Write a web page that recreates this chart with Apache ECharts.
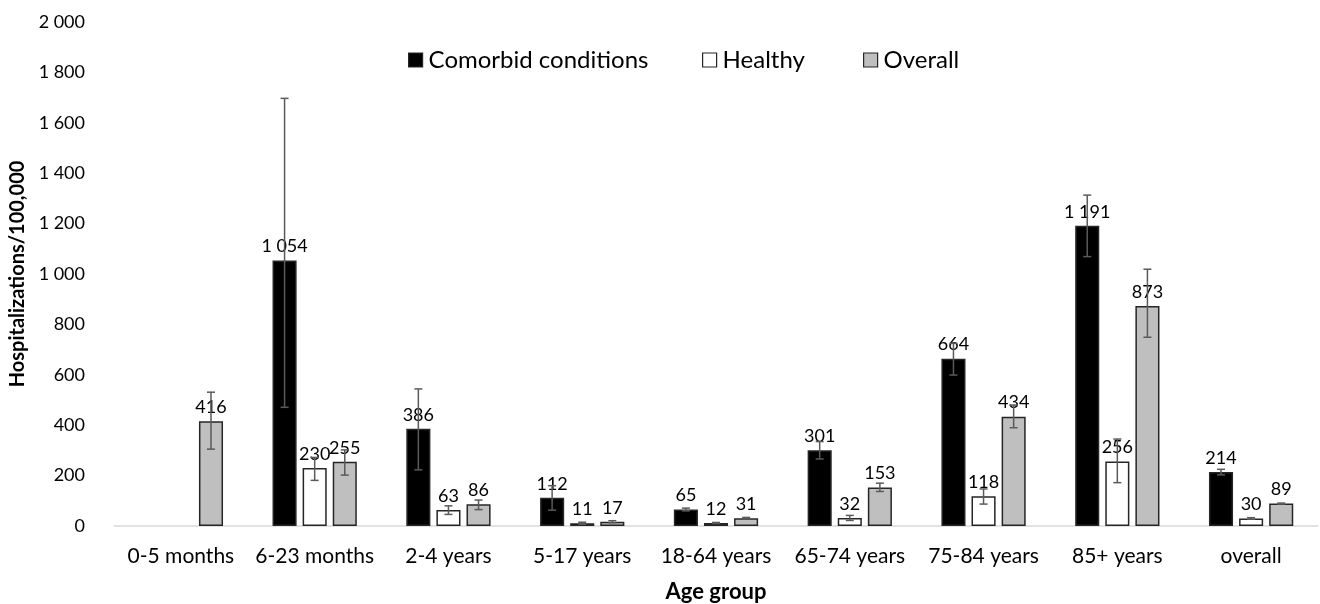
<!DOCTYPE html>
<html>
<head>
<meta charset="utf-8">
<script src="https://cdn.jsdelivr.net/npm/echarts@6/dist/echarts.min.js"></script>
<style>
  html, body { margin: 0; padding: 0; background: #fff; }
  #chart { width: 1320px; height: 604px; }
</style>
</head>
<body>
<div id="chart"></div>
<script>
const categories = ['0-5 months', '6-23 months', '2-4 years', '5-17 years', '18-64 years', '65-74 years', '75-84 years', '85+ years', 'overall'];
const seriesNames = ['Comorbid conditions', 'Healthy', 'Overall'];
const comorbid = [null, 1054, 386, 112, 65, 301, 664, 1191, 214];
const healthy = [null, 230, 63, 11, 12, 32, 118, 256, 30];
const overall = [416, 255, 86, 17, 31, 153, 434, 873, 89];
const comorbidLow = [null, 471, 223, 63, 60, 266, 599, 1069, 203];
const comorbidHigh = [null, 1697, 544, 160, 71, 335, 725, 1313, 225];
const healthyLow = [null, 181, 46, 7, 10, 22, 87, 172, 27];
const healthyHigh = [null, 272, 80, 15, 14, 42, 147, 345, 33];
const overallLow = [305, 202, 65, 13, 28, 137, 390, 749, 87];
const overallHigh = [531, 302, 103, 21, 34, 170, 480, 1019, 91];
const yTicks = [0, 200, 400, 600, 800, 1000, 1200, 1400, 1600, 1800, 2000];

const FONT = 'Lato';
const catGap = 0.37, barGapRatio = 0.25;
function fmt(v) {
  return String(v).replace(/\B(?=(\d{3})+(?!\d))/g, ' ');
}
function errData(lo, hi) {
  const out = [];
  for (let i = 0; i < lo.length; i++) {
    if (lo[i] != null && hi[i] != null) out.push([i, lo[i], hi[i]]);
  }
  return out;
}
function makeRender(k) {
  return function (params, api) {
    const xi = api.value(0);
    const lo = api.coord([xi, api.value(1)]);
    const hi = api.coord([xi, api.value(2)]);
    const band = api.size([1, 0])[0];
    const groupW = band * (1 - catGap);
    const bw = groupW / (3 + 2 * barGapRatio);
    const x = lo[0] - groupW / 2 + bw / 2 + k * bw * (1 + barGapRatio);
    const c = 4;
    const st = { stroke: '#5a5a5a', lineWidth: 1.5 };
    return {
      type: 'group',
      children: [
        { type: 'line', shape: { x1: x, y1: lo[1], x2: x, y2: hi[1] }, style: st },
        { type: 'line', shape: { x1: x - c, y1: lo[1], x2: x + c, y2: lo[1] }, style: st },
        { type: 'line', shape: { x1: x - c, y1: hi[1], x2: x + c, y2: hi[1] }, style: st }
      ]
    };
  };
}
const colors = ['#000000', '#ffffff', '#bfbfbf'];
const values = [comorbid, healthy, overall];
const lows = [comorbidLow, healthyLow, overallLow];
const highs = [comorbidHigh, healthyHigh, overallHigh];

const series = [];
for (let k = 0; k < 3; k++) {
  series.push({
    name: seriesNames[k],
    type: 'bar',
    data: values[k].map(v => v == null ? '-' : v),
    barGap: '25%',
    barCategoryGap: '37%',
    z: 2,
    itemStyle: { color: colors[k], borderColor: '#262626', borderWidth: 1.5 },
    label: {
      show: true, position: 'top', distance: 5,
      color: '#000', fontFamily: FONT, fontSize: 18,
      formatter: p => fmt(p.value)
    }
  });
}
for (let k = 0; k < 3; k++) {
  series.push({
    type: 'custom',
    name: seriesNames[k] + ' CI',
    renderItem: makeRender(k),
    data: errData(lows[k], highs[k]),
    z: 5,
    silent: true,
    encode: { x: 0, y: [1, 2] }
  });
}

const legendLefts = [403, 697, 858];
const legends = seriesNames.map((n, i) => ({
  data: [n],
  left: legendLefts[i], top: 43,
  itemWidth: 14, itemHeight: 14,
  icon: 'rect',
  textStyle: { fontFamily: FONT, fontSize: 24, color: '#000', padding: [0, 0, 0, 1] },
  itemStyle: { borderColor: '#262626', borderWidth: 1.2 }
}));

const chart = echarts.init(document.getElementById('chart'), null, { renderer: 'canvas' });
chart.setOption({
  animation: false,
  backgroundColor: '#fff',
  textStyle: { fontFamily: FONT },
  legend: legends,
  grid: { left: 114, right: 2, top: 22, bottom: 78, containLabel: false, outerBoundsMode: 'none' },
  xAxis: {
    type: 'category',
    data: categories,
    axisLine: { lineStyle: { color: '#d9d9d9', width: 1.5 } },
    axisTick: { show: false },
    axisLabel: { color: '#000', fontFamily: FONT, fontSize: 21, margin: 20, interval: 0 },
    name: 'Age group',
    nameLocation: 'middle',
    nameGap: 55,
    nameTextStyle: { fontFamily: FONT, fontSize: 22, fontWeight: 'bold', color: '#000' }
  },
  yAxis: {
    type: 'value',
    min: yTicks[0], max: yTicks[yTicks.length - 1], interval: yTicks[1] - yTicks[0],
    splitLine: { show: false },
    axisLine: { show: false },
    axisTick: { show: false },
    axisLabel: { color: '#000', fontFamily: FONT, fontSize: 18, margin: 29, formatter: v => fmt(v) },
    name: 'Hospitalizations/100,000',
    nameLocation: 'middle',
    nameGap: 82,
    nameRotate: 90,
    nameTextStyle: { fontFamily: FONT, fontSize: 20, fontWeight: 'bold', color: '#000' }
  },
  series: series
});
</script>
</body>
</html>
